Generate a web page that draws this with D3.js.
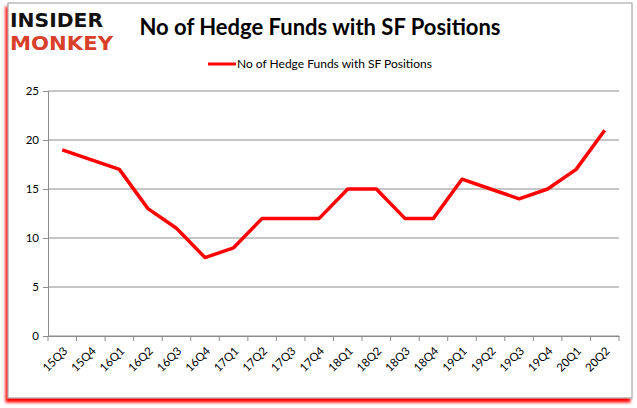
<!DOCTYPE html>
<html><head><meta charset="utf-8">
<script src="https://cdn.jsdelivr.net/npm/d3@7"></script>
<style>body{margin:0;background:#fff}svg{display:block}</style>
</head><body>
<svg id="c" width="637" height="408"></svg>
<script>
const categories = ["15Q3","15Q4","16Q1","16Q2","16Q3","16Q4","17Q1","17Q2","17Q3","17Q4","18Q1","18Q2","18Q3","18Q4","19Q1","19Q2","19Q3","19Q4","20Q1","20Q2"];
const values = [19,18,17,13,11,8,9,12,12,12,15,15,12,12,16,15,14,15,17,21];
const yTicks = [0,5,10,15,20,25];
const title = "No of Hedge Funds with SF Positions";
const seriesName = "No of Hedge Funds with SF Positions";

const svg = d3.select("#c");
const font = "Lato, 'Open Sans', sans-serif";

// frame with red shadow
const defs = svg.append("defs");
const f = defs.append("filter").attr("id","sh").attr("x","-5%").attr("y","-5%").attr("width","110%").attr("height","110%");
f.append("feGaussianBlur").attr("in","SourceAlpha").attr("stdDeviation",1.5).attr("result","b");
f.append("feOffset").attr("in","b").attr("dx",-2).attr("dy",4).attr("result","o");
f.append("feFlood").attr("flood-color","#ff0000").attr("result","fl");
f.append("feComposite").attr("in","fl").attr("in2","o").attr("operator","in").attr("result","s");
const m = f.append("feMerge"); m.append("feMergeNode").attr("in","s"); m.append("feMergeNode").attr("in","SourceGraphic");
svg.append("rect").attr("x",8).attr("y",3).attr("width",624).attr("height",395)
  .attr("fill","#fff").attr("stroke","#9a9a9a").attr("stroke-width",1).attr("filter","url(#sh)");

// logo
svg.append("text").attr("x",10).attr("y",27).attr("font-family","'DejaVu Sans', sans-serif").attr("font-weight","bold")
  .attr("font-size",19).attr("textLength",93).attr("lengthAdjust","spacingAndGlyphs").attr("fill","#111").text("INSIDER");
svg.append("text").attr("x",10).attr("y",50).attr("font-family","'DejaVu Sans', sans-serif").attr("font-weight","bold")
  .attr("font-size",19).attr("textLength",103).attr("lengthAdjust","spacingAndGlyphs").attr("fill","#d8402b").text("MONKEY");

// title
svg.append("text").attr("x",320).attr("y",35).attr("text-anchor","middle").attr("font-family",font)
  .attr("font-weight","bold").attr("font-size",22).attr("fill","#000").text(title);

// legend
svg.append("line").attr("x1",208).attr("x2",236).attr("y1",64).attr("y2",64).attr("stroke","#ff0000").attr("stroke-width",3);
svg.append("text").attr("x",237).attr("y",68).attr("font-family",font).attr("font-size",12).attr("fill","#000").text(seriesName);

const x = d3.scaleBand().domain(categories).range([48,619]);
const y = d3.scaleLinear().domain([0,25]).range([336,91]);

// gridlines
svg.append("g").selectAll("line").data(yTicks).join("line")
  .attr("x1",48).attr("x2",619).attr("y1",d=>y(d)).attr("y2",d=>y(d)).attr("stroke","#8c8c8c").attr("stroke-width",1);

// y axis
const ya = svg.append("g").attr("transform","translate(48,0)")
  .call(d3.axisLeft(y).tickValues(yTicks).tickSize(5).tickPadding(4));
ya.select(".domain").attr("stroke","#8c8c8c");
ya.selectAll(".tick line").attr("stroke","#8c8c8c");
ya.selectAll("text").attr("font-family",font).attr("font-size",11.5).attr("fill","#000");

// x axis
const xa = svg.append("g").attr("transform","translate(0,336)")
  .call(d3.axisBottom(x).tickSize(0).tickPadding(0));
xa.select(".domain").attr("stroke","#8c8c8c");
xa.selectAll(".tick line").remove();
xa.selectAll(".tick text").attr("font-family",font).attr("font-size",11.5).attr("fill","#000")
  .attr("text-anchor","end").attr("transform","translate(3,13) rotate(-45)").attr("dy","0.35em");
// boundary tick marks
const bounds = categories.map(c=>x(c)).concat([x.range()[1]]);
svg.append("g").selectAll("line").data(bounds).join("line")
  .attr("x1",d=>d).attr("x2",d=>d).attr("y1",336).attr("y2",341).attr("stroke","#8c8c8c");

// line
svg.append("path").datum(values)
  .attr("d", d3.line().x((d,i)=>x(categories[i])+x.bandwidth()/2).y(d=>y(d)))
  .attr("fill","none").attr("stroke","#ff0000").attr("stroke-width",3.5).attr("stroke-linejoin","round");
</script>
</body></html>
